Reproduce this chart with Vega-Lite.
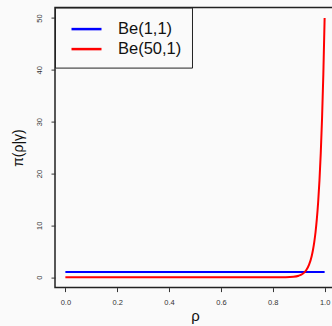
{
  "$schema": "https://vega.github.io/schema/vega-lite/v6.json",
  "autosize": "none",
  "width": 280,
  "height": 280,
  "padding": {"left": 55, "top": 7.6, "right": 0, "bottom": 38},
  "background": "#fafafa",
  "config": {
    "view": {"stroke": "#222", "strokeWidth": 1.5},
    "font": "Liberation Sans"
  },
  "data": {
    "values": [
      {"rho": 0, "d": 1, "s": "Be(1,1)"},
      {"rho": 1, "d": 1, "s": "Be(1,1)"},
      {"rho": 0, "d": 0, "s": "Be(50,1)"},
      {"rho": 0.5, "d": 0, "s": "Be(50,1)"},
      {"rho": 0.8, "d": 0.001, "s": "Be(50,1)"},
      {"rho": 0.85, "d": 0.017, "s": "Be(50,1)"},
      {"rho": 0.88, "d": 0.095, "s": "Be(50,1)"},
      {"rho": 0.9, "d": 0.29, "s": "Be(50,1)"},
      {"rho": 0.91, "d": 0.49, "s": "Be(50,1)"},
      {"rho": 0.92, "d": 0.84, "s": "Be(50,1)"},
      {"rho": 0.93, "d": 1.43, "s": "Be(50,1)"},
      {"rho": 0.94, "d": 2.41, "s": "Be(50,1)"},
      {"rho": 0.95, "d": 4.05, "s": "Be(50,1)"},
      {"rho": 0.955, "d": 5.24, "s": "Be(50,1)"},
      {"rho": 0.96, "d": 6.77, "s": "Be(50,1)"},
      {"rho": 0.965, "d": 8.72, "s": "Be(50,1)"},
      {"rho": 0.97, "d": 11.24, "s": "Be(50,1)"},
      {"rho": 0.975, "d": 14.46, "s": "Be(50,1)"},
      {"rho": 0.98, "d": 18.58, "s": "Be(50,1)"},
      {"rho": 0.985, "d": 23.84, "s": "Be(50,1)"},
      {"rho": 0.99, "d": 30.56, "s": "Be(50,1)"},
      {"rho": 0.995, "d": 39.11, "s": "Be(50,1)"},
      {"rho": 1, "d": 50, "s": "Be(50,1)"}
    ]
  },
  "mark": {"type": "line", "strokeWidth": 2, "interpolate": "monotone"},
  "encoding": {
    "x": {
      "field": "rho", "type": "quantitative",
      "scale": {"domain": [-0.04, 1.04], "nice": false, "zero": false},
      "axis": {
        "values": [0, 0.2, 0.4, 0.6, 0.8, 1.0], "format": ".1f", "grid": false,
        "domain": false, "tickColor": "#333", "tickSize": 4,
        "labelFontSize": 7.5, "labelColor": "#333", "labelPadding": 7,
        "title": "ρ", "titleFontSize": 15, "titleFontWeight": "normal", "titlePadding": 2, "titleColor": "#111"
      }
    },
    "y": {
      "field": "d", "type": "quantitative",
      "scale": {"domain": [-2, 52], "nice": false, "zero": false},
      "axis": {
        "values": [0, 10, 20, 30, 40, 50], "grid": false, "domain": false,
        "tickColor": "#333", "tickSize": 4,
        "labelFontSize": 7.5, "labelColor": "#333", "labelAngle": 270,
        "labelAlign": "center", "labelBaseline": "bottom", "labelPadding": 8,
        "title": "π(ρ|γ)", "titleFontSize": 14, "titleFontWeight": "normal", "titlePadding": 10, "titleColor": "#111"
      }
    },
    "color": {
      "field": "s", "type": "nominal",
      "scale": {"domain": ["Be(1,1)", "Be(50,1)"], "range": ["#0000ff", "#ff0000"]},
      "legend": {
        "title": null, "orient": "none", "legendX": 0, "legendY": 0,
        "symbolType": "M-0.5,0H2.5", "symbolSize": 400, "symbolStrokeWidth": 2.5,
        "labelFontSize": 16.5, "labelColor": "#111", "labelOffset": 30,
        "padding": 10, "rowPadding": 0,
        "strokeColor": "#222", "fillColor": "#fafafa"
      }
    }
  }
}
